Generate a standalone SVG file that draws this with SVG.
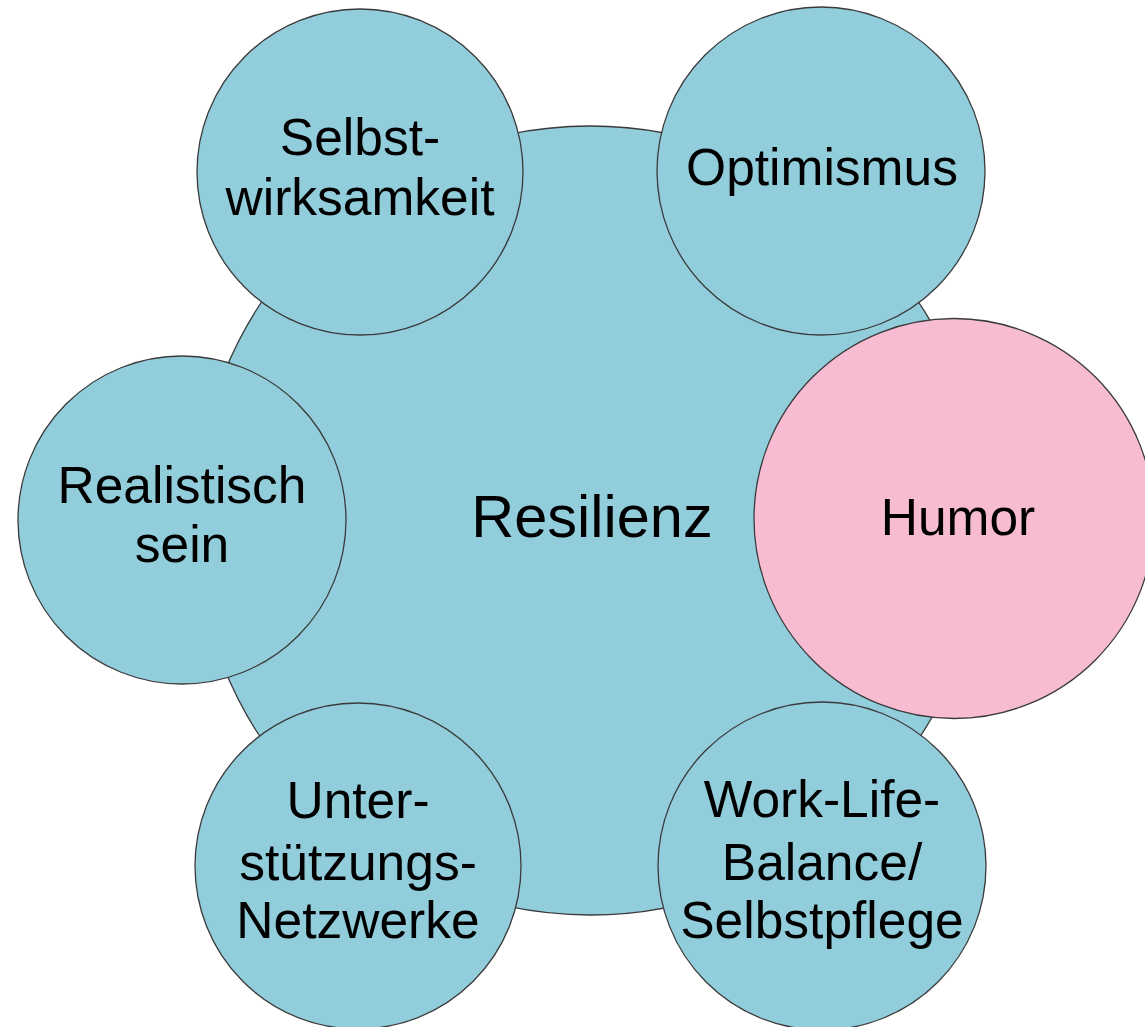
<svg xmlns="http://www.w3.org/2000/svg" width="1145" height="1027" viewBox="0 0 1145 1027">
<style>
.c{fill:#92CDDC;stroke:#3a3a3a;stroke-width:1.3}
.p{fill:#F7BCD2;stroke:#3a3a3a;stroke-width:1.3}
text{font-family:"Liberation Sans",Arial,sans-serif;font-size:51.5px;fill:#000;text-anchor:middle}
.big{font-size:59.5px}
</style>
<rect width="1145" height="1027" fill="#fff"/>
<g id="connectors"></g>
<g id="resilienz"><circle class="c" cx="590" cy="520.5" r="394.5"/><text class="big" x="592" y="537">Resilienz</text></g>
<g id="selbstwirksamkeit"><circle class="c" cx="360" cy="172" r="163"/><text x="360" y="155">Selbst-</text><text x="360" y="215">wirksamkeit</text></g>
<g id="optimismus"><circle class="c" cx="821" cy="171" r="164"/><text x="822" y="185">Optimismus</text></g>
<g id="realistisch"><circle class="c" cx="182" cy="520" r="164"/><text x="182" y="503">Realistisch</text><text x="182" y="562">sein</text></g>
<g id="unterstuetzung"><circle class="c" cx="358" cy="866" r="163"/><text x="358" y="818">Unter-</text><text x="358" y="880">stützungs-</text><text x="358" y="938">Netzwerke</text></g>
<g id="worklife"><circle class="c" cx="822" cy="866" r="164"/><text x="822" y="817">Work-Life-</text><text x="822" y="880">Balance/</text><text x="822" y="938">Selbstpflege</text></g>
<g id="humor"><circle class="p" cx="954" cy="518.5" r="200"/><text x="958" y="535">Humor</text></g>
</svg>
